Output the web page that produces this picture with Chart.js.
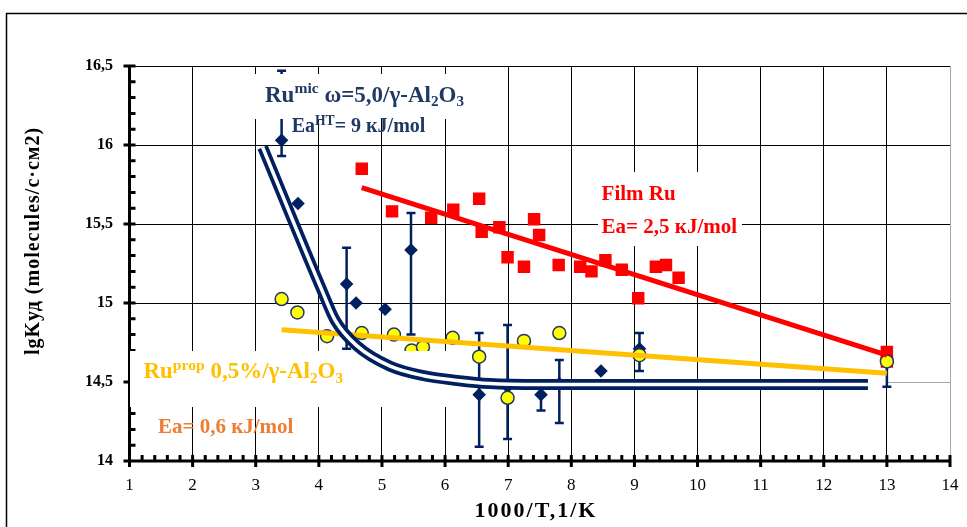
<!DOCTYPE html>
<html>
<head>
<meta charset="utf-8">
<script src="https://cdn.jsdelivr.net/npm/chart.js@4"></script>
<style>
  html, body { margin: 0; padding: 0; background: #fff; }
  #wrap { position: relative; width: 967px; height: 527px; }
</style>
</head>
<body>
<div id="wrap"><canvas id="chart"></canvas></div>
<script>
// Film Ru - red squares
const filmX = [4.68, 5.16, 5.78, 6.13, 6.54, 6.58, 6.86, 6.99, 7.25, 7.41, 7.49, 7.80, 8.14, 8.32, 8.54, 8.80, 9.06, 9.34, 9.50, 9.70, 13.0, 13.0];
const filmY = [15.85, 15.58, 15.54, 15.59, 15.66, 15.45, 15.48, 15.29, 15.23, 15.53, 15.43, 15.24, 15.23, 15.20, 15.27, 15.21, 15.03, 15.23, 15.24, 15.16, 14.69, 14.63];
const filmFitX = [4.68, 13.0];
const filmFitY = [15.73, 14.67];

// Ru prop - yellow circles
const propX = [3.41, 3.66, 4.13, 4.68, 5.19, 5.47, 5.65, 6.12, 6.54, 6.99, 7.25, 7.81, 9.08, 13.0];
const propY = [15.025, 14.94, 14.79, 14.81, 14.80, 14.70, 14.72, 14.78, 14.66, 14.40, 14.76, 14.81, 14.67, 14.63];
const propFitX = [3.41, 13.0];
const propFitY = [14.83, 14.555];

// Ru mic - navy diamonds with error bars
const micX = [3.41, 3.67, 4.44, 4.59, 5.05, 5.46, 6.54, 6.99, 7.52, 7.81, 8.47, 9.08, 13.0];
const micY = [16.03, 15.63, 15.12, 15.00, 14.96, 15.335, 14.42, 14.47, 14.42, 14.49, 14.57, 14.71, 14.62];
const micHi = [16.47, null, 15.35, null, null, 15.57, 14.81, 14.86, 14.50, 14.64, null, 14.81, 14.66];
const micLo = [15.93, null, 14.71, null, null, 14.80, 14.09, 14.14, 14.32, 14.24, null, 14.57, 14.47];
const micCurveX = [3.11, 4.05, 4.26, 4.60, 5.13, 5.66, 6.19, 6.71, 7.5, 12.70];
const micCurveY = [15.985, 15.08, 14.89, 14.73, 14.60, 14.54, 14.51, 14.49, 14.484, 14.484];

// axis ticks
const xTicks = [1, 2, 3, 4, 5, 6, 7, 8, 9, 10, 11, 12, 13, 14];
const yTicks = [14, 14.5, 15, 15.5, 16, 16.5];
const xTitle = '1000/T,1/K';
const yTitle = 'lgKуд (molecules/с·см2)';

const NAVY = '#002060';
const SERIF = '"Liberation Serif", "Times New Roman", serif';

function pts(xs, ys) {
    return xs.map((x, i) => ({ x: x, y: ys[i] }));
}

// text labels on the plot
const notes = [
    { parts: [['Ru'], ['mic', 'sup'], [' ω=5,0/γ-Al'], ['2', 'sub'], ['O'], ['3', 'sub']], color: '#203864', size: 23, x: 3.147, y: 16.274 },
    { parts: [['Ea'], ['HT', 'sup'], ['= 9 кJ/mol']], color: '#203864', size: 20, x: 3.57, y: 16.084 },
    { parts: [['Film Ru']], color: '#ff0000', size: 21, x: 8.48, y: 15.652 },
    { parts: [['Ea= 2,5 кJ/mol']], color: '#ff0000', size: 21, x: 8.48, y: 15.441 },
    { parts: [['Ru'], ['prop', 'sup'], [' 0,5%/γ-Al'], ['2', 'sub'], ['O'], ['3', 'sub']], color: '#ffc000', size: 23, x: 1.22, y: 14.523 },
    { parts: [['Ea= 0,6 кJ/mol']], color: '#ed7d31', size: 21, x: 1.45, y: 14.175 }
];

// white backgrounds of the text boxes (pixels)
const boxes = [
    [250, 74, 225, 45],
    [130, 351, 325, 56],
    [598, 172, 144, 74]
];

function drawRich(ctx, x, y, parts, size, color) {
    ctx.fillStyle = color;
    ctx.textBaseline = 'alphabetic';
    ctx.textAlign = 'left';
    let cx = x;
    parts.forEach(p => {
        let s = size, dy = 0;
        if (p[1] === 'sup') { s = size * 0.68; dy = -size * 0.36; }
        if (p[1] === 'sub') { s = size * 0.66; dy = size * 0.2; }
        ctx.font = 'bold ' + s + 'px ' + SERIF;
        ctx.fillText(p[0], cx, y + dy);
        cx += ctx.measureText(p[0]).width;
    });
}

let boxesDone = false;

const extras = {
    id: 'extras',
    beforeDraw(chart) {
        boxesDone = false;
    },
    beforeDatasetsDraw(chart) {
        // thick axes with major/minor ticks
        const ctx = chart.ctx;
        const xs = chart.scales.x, ys = chart.scales.y;
        const x0 = xs.getPixelForValue(1), x1 = xs.getPixelForValue(14);
        const y0 = ys.getPixelForValue(14), y1 = ys.getPixelForValue(16.5);
        ctx.save();
        // 14,5 grid only shows between 13 and 14
        ctx.lineWidth = 1;
        ctx.strokeStyle = '#a6a6a6';
        const g = Math.round(ys.getPixelForValue(14.5)) + 0.5;
        ctx.beginPath();
        ctx.moveTo(xs.getPixelForValue(13), g);
        ctx.lineTo(x1, g);
        ctx.stroke();
        ctx.strokeStyle = '#000';
        ctx.lineWidth = 3;
        ctx.beginPath();
        ctx.moveTo(x0, y1);
        ctx.lineTo(x0, y0);
        ctx.moveTo(x0, y0);
        ctx.lineTo(x1, y0);
        for (let v = 14; v <= 16.5001; v += 0.1) {
            const p = ys.getPixelForValue(v);
            const major = Math.abs(v * 2 - Math.round(v * 2)) < 0.001;
            ctx.moveTo(major ? x0 - 6 : x0, p);
            ctx.lineTo(x0 + 6, p);
        }
        for (let v = 1; v <= 14.0001; v += 0.2) {
            const p = xs.getPixelForValue(v);
            const major = Math.abs(v - Math.round(v)) < 0.001;
            ctx.moveTo(p, y0 - 6);
            ctx.lineTo(p, major ? y0 + 6 : y0);
        }
        ctx.stroke();
        ctx.restore();
    },
    beforeDatasetDraw(chart, args) {
        const ds = chart.data.datasets[args.index];
        const ctx = chart.ctx;
        if (ds.fitLine && !boxesDone) {
            ctx.save();
            ctx.fillStyle = '#fff';
            boxes.forEach(b => ctx.fillRect(b[0], b[1], b[2], b[3]));
            ctx.restore();
            boxesDone = true;
        }
        if (ds.errHi) {
            const xs = chart.scales.x, ys = chart.scales.y;
            ctx.save();
            ctx.strokeStyle = NAVY;
            ctx.lineWidth = 2.5;
            ctx.beginPath();
            ds.data.forEach((d, i) => {
                if (ds.errHi[i] == null) return;
                const px = xs.getPixelForValue(d.x);
                const ph = ys.getPixelForValue(ds.errHi[i]);
                const pl = ys.getPixelForValue(ds.errLo[i]);
                ctx.moveTo(px, ph); ctx.lineTo(px, pl);
                ctx.moveTo(px - 4.5, ph); ctx.lineTo(px + 4.5, ph);
                ctx.moveTo(px - 4.5, pl); ctx.lineTo(px + 4.5, pl);
            });
            ctx.stroke();
            ctx.restore();
        }
    },
    afterDatasetsDraw(chart) {
        const ctx = chart.ctx;
        const xs = chart.scales.x, ys = chart.scales.y;
        ctx.save();
        notes.forEach(n => {
            drawRich(ctx, xs.getPixelForValue(n.x), ys.getPixelForValue(n.y), n.parts, n.size, n.color);
        });
        ctx.restore();
    },
    afterDraw(chart) {
        const ctx = chart.ctx;
        ctx.save();
        // axis titles
        ctx.fillStyle = '#000';
        ctx.textAlign = 'center';
        ctx.textBaseline = 'middle';
        ctx.font = 'bold 22px ' + SERIF;
        ctx.letterSpacing = '2px';
        ctx.fillText(xTitle, 536, 511);
        ctx.save();
        ctx.translate(34, 241);
        ctx.rotate(-Math.PI / 2);
        ctx.font = 'bold 20px ' + SERIF;
        ctx.letterSpacing = '1px';
        ctx.fillText(yTitle, 0, 0);
        ctx.restore();
        ctx.letterSpacing = '0px';
        // outer frame
        ctx.strokeStyle = '#000';
        ctx.lineWidth = 1.5;
        ctx.strokeRect(6.5, 13.5, 1200, 800);
        ctx.restore();
    }
};

new Chart(document.getElementById('chart'), {
    type: 'scatter',
    data: {
        datasets: [
            {
                label: 'Film Ru fit', data: pts(filmFitX, filmFitY), fitLine: true, order: 4,
                showLine: true, borderColor: '#ff0000', borderWidth: 5, pointRadius: 0
            },
            {
                label: 'Ru prop fit', data: pts(propFitX, propFitY), fitLine: true, order: 3,
                showLine: true, borderColor: '#ffc000', borderWidth: 5, pointRadius: 0
            },
            {
                label: 'Ru mic curve', data: pts(micCurveX, micCurveY), fitLine: true, order: 2,
                showLine: true, borderColor: NAVY, borderWidth: 11, pointRadius: 0,
                cubicInterpolationMode: 'monotone'
            },
            {
                label: 'Ru mic curve inner', data: pts(micCurveX, micCurveY), fitLine: true, order: 1,
                showLine: true, borderColor: '#fff', borderWidth: 3.5, pointRadius: 0,
                cubicInterpolationMode: 'monotone'
            },
            {
                label: 'Film Ru', data: pts(filmX, filmY), order: 12,
                pointStyle: 'rect', pointRadius: 8.8, backgroundColor: '#ff0000', borderWidth: 0
            },
            {
                label: 'Ru mic', data: pts(micX, micY), order: 11, errHi: micHi, errLo: micLo,
                pointStyle: 'rectRot', pointRadius: 6.8, backgroundColor: NAVY, borderWidth: 0
            },
            {
                label: 'Ru prop', data: pts(propX, propY), order: 10,
                pointStyle: 'circle', pointRadius: 6.5, backgroundColor: '#ffff00',
                borderColor: '#203864', borderWidth: 1.5
            }
        ]
    },
    options: {
        responsive: true,
        maintainAspectRatio: false,
        animation: false,
        events: [],
        layout: { padding: { top: 66, right: 17, left: 0, bottom: 0 } },
        plugins: { legend: { display: false }, tooltip: { enabled: false } },
        scales: {
            x: {
                type: 'linear', min: 1, max: 14,
                afterFit: s => { s.height = 66; s.paddingLeft = 0; s.paddingRight = 0; },
                afterBuildTicks: s => { s.ticks = xTicks.map(v => ({ value: v })); },
                grid: {
                    drawTicks: false, lineWidth: 1,
                    color: c => c.tick && c.tick.value === 14 ? '#a6a6a6' : '#000'
                },
                border: { display: false },
                ticks: { padding: 14, color: '#000', font: { family: SERIF, size: 17 } }
            },
            y: {
                type: 'linear', min: 14, max: 16.5,
                afterFit: s => { s.width = 129.5; s.paddingTop = 0; s.paddingBottom = 0; },
                afterBuildTicks: s => { s.ticks = yTicks.map(v => ({ value: v })); },
                grid: {
                    drawTicks: false, lineWidth: 1,
                    color: c => c.tick && c.tick.value === 14.5 ? 'rgba(0,0,0,0)' : '#000'
                },
                border: { display: false },
                ticks: {
                    padding: 16.5, color: '#000', font: { family: SERIF, size: 16, weight: 'bold' },
                    callback: v => String(v).replace('.', ',')
                }
            }
        }
    },
    plugins: [extras]
});
</script>
</body>
</html>
